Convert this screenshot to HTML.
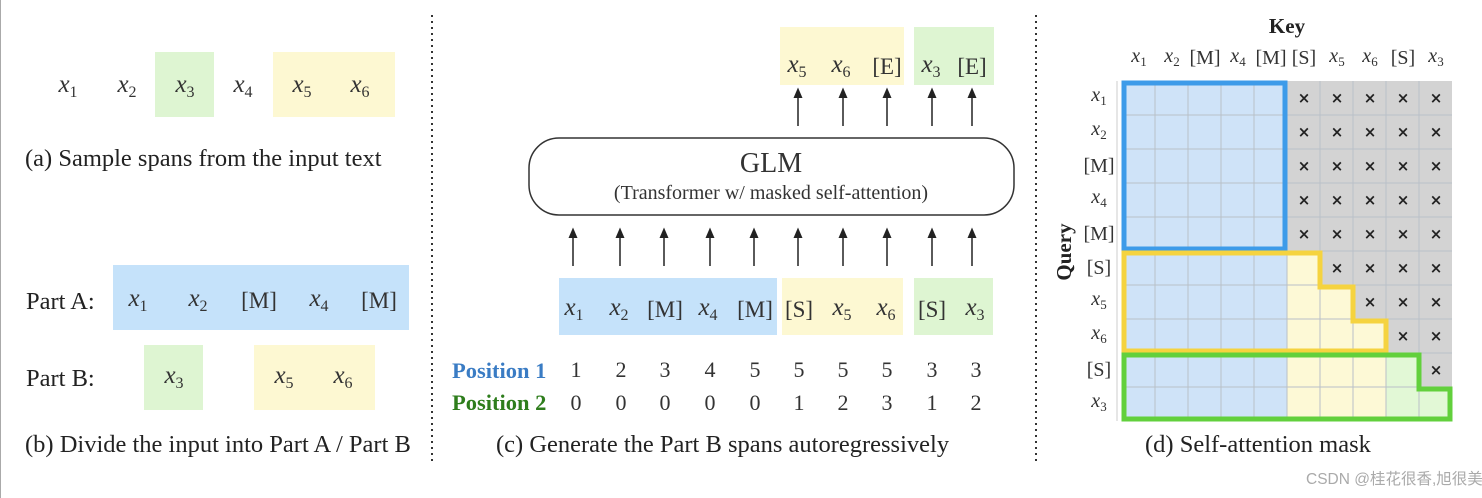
<!DOCTYPE html>
<html><head><meta charset="utf-8"><style>
html,body{margin:0;padding:0;background:#fff}
svg{display:block}
.m{font-family:"Liberation Serif",serif;font-style:italic;font-size:25px;fill:#333;text-anchor:middle}
.s{font-style:normal;font-size:16px}
.r{font-family:"Liberation Serif",serif;font-size:23px;fill:#333;text-anchor:middle}
.c{font-family:"Liberation Serif",serif;font-size:24.5px;fill:#222}
.n{font-family:"Liberation Serif",serif;font-size:22px;fill:#333;text-anchor:middle}
.x{font-family:"DejaVu Sans",sans-serif;font-size:15px;fill:#222;text-anchor:middle;font-weight:bold}
</style></head><body>
<svg width="1482" height="498" viewBox="0 0 1482 498" xmlns="http://www.w3.org/2000/svg">
<defs><marker id="ah" markerWidth="8" markerHeight="8" refX="4" refY="4" orient="auto"><path d="M0,1 L7,4 L0,7 z" fill="#222"/></marker></defs>
<line x1="0.5" y1="0" x2="0.5" y2="498" stroke="#aaa" stroke-width="1"/>
<line x1="432" y1="15" x2="432" y2="462" stroke="#333" stroke-width="2" stroke-dasharray="2,4"/>
<line x1="1036" y1="15" x2="1036" y2="462" stroke="#333" stroke-width="2" stroke-dasharray="2,4"/>

<!-- (a) -->
<rect x="155" y="52" width="59" height="65" fill="#def5d2"/>
<rect x="273" y="52" width="122" height="65" fill="#fdf8d2"/>
<text class="m" x="68" y="92">x<tspan class="s" dy="5">1</tspan></text>
<text class="m" x="127" y="92">x<tspan class="s" dy="5">2</tspan></text>
<text class="m" x="185" y="92">x<tspan class="s" dy="5">3</tspan></text>
<text class="m" x="243" y="92">x<tspan class="s" dy="5">4</tspan></text>
<text class="m" x="302" y="92">x<tspan class="s" dy="5">5</tspan></text>
<text class="m" x="360" y="92">x<tspan class="s" dy="5">6</tspan></text>
<text class="c" x="25" y="166">(a)  Sample spans from the input text</text>

<!-- (b) -->
<rect x="113" y="265" width="296" height="65" fill="#c5e2fa"/>
<text class="c" x="26" y="309">Part A:</text>
<text class="m" x="138" y="306">x<tspan class="s" dy="5">1</tspan></text>
<text class="m" x="198" y="306">x<tspan class="s" dy="5">2</tspan></text>
<text class="r" x="259" y="308">[M]</text>
<text class="m" x="319" y="306">x<tspan class="s" dy="5">4</tspan></text>
<text class="r" x="379" y="308">[M]</text>
<rect x="144" y="345" width="59" height="65" fill="#def5d2"/>
<rect x="254" y="345" width="121" height="65" fill="#fdf8d2"/>
<text class="c" x="26" y="386">Part B:</text>
<text class="m" x="174" y="383">x<tspan class="s" dy="5">3</tspan></text>
<text class="m" x="284" y="383">x<tspan class="s" dy="5">5</tspan></text>
<text class="m" x="343" y="383">x<tspan class="s" dy="5">6</tspan></text>
<text class="c" x="25" y="452">(b)  Divide the input into Part A / Part B</text>

<!-- (c) -->
<rect x="780" y="27" width="124" height="58" fill="#fdf8d2"/>
<rect x="914" y="27" width="80" height="58" fill="#def5d2"/>
<text class="m" x="797" y="72">x<tspan class="s" dy="5">5</tspan></text>
<text class="m" x="841" y="72">x<tspan class="s" dy="5">6</tspan></text>
<text class="r" x="887" y="74">[E]</text>
<text class="m" x="931" y="72">x<tspan class="s" dy="5">3</tspan></text>
<text class="r" x="972" y="74">[E]</text>
<g stroke="#222" stroke-width="1.5" marker-end="url(#ah)">
<line x1="798" y1="126" x2="798" y2="92"/><line x1="843" y1="126" x2="843" y2="92"/><line x1="887" y1="126" x2="887" y2="92"/><line x1="932" y1="126" x2="932" y2="92"/><line x1="972" y1="126" x2="972" y2="92"/>
<line x1="573" y1="266" x2="573" y2="232"/><line x1="620" y1="266" x2="620" y2="232"/><line x1="664" y1="266" x2="664" y2="232"/><line x1="710" y1="266" x2="710" y2="232"/><line x1="754" y1="266" x2="754" y2="232"/><line x1="798" y1="266" x2="798" y2="232"/><line x1="843" y1="266" x2="843" y2="232"/><line x1="887" y1="266" x2="887" y2="232"/><line x1="932" y1="266" x2="932" y2="232"/><line x1="972" y1="266" x2="972" y2="232"/>
</g>
<rect x="529" y="138" width="485" height="77" rx="30" ry="30" fill="#fff" stroke="#333" stroke-width="1.5"/>
<text class="r" x="771" y="172" style="font-size:28px">GLM</text>
<text class="r" x="771" y="199" style="font-size:20px">(Transformer w/ masked self-attention)</text>
<rect x="559" y="278" width="218" height="57" fill="#c5e2fa"/>
<rect x="782" y="278" width="121" height="57" fill="#fdf8d2"/>
<rect x="914" y="278" width="79" height="57" fill="#def5d2"/>
<text class="m" x="574" y="315">x<tspan class="s" dy="5">1</tspan></text>
<text class="m" x="619" y="315">x<tspan class="s" dy="5">2</tspan></text>
<text class="r" x="665" y="317">[M]</text>
<text class="m" x="708" y="315">x<tspan class="s" dy="5">4</tspan></text>
<text class="r" x="755" y="317">[M]</text>
<text class="r" x="799" y="317">[S]</text>
<text class="m" x="842" y="315">x<tspan class="s" dy="5">5</tspan></text>
<text class="m" x="886" y="315">x<tspan class="s" dy="5">6</tspan></text>
<text class="r" x="932" y="317">[S]</text>
<text class="m" x="975" y="315">x<tspan class="s" dy="5">3</tspan></text>
<text x="452" y="378" style="font-family:'Liberation Serif',serif;font-weight:bold;font-size:22.5px;fill:#3a7cc4">Position 1</text>
<text x="452" y="410" style="font-family:'Liberation Serif',serif;font-weight:bold;font-size:22.5px;fill:#2e7d1c">Position 2</text>
<text class="n" x="576" y="377">1</text><text class="n" x="621" y="377">2</text><text class="n" x="665" y="377">3</text><text class="n" x="710" y="377">4</text><text class="n" x="755" y="377">5</text><text class="n" x="799" y="377">5</text><text class="n" x="843" y="377">5</text><text class="n" x="887" y="377">5</text><text class="n" x="932" y="377">3</text><text class="n" x="976" y="377">3</text>
<text class="n" x="576" y="410">0</text><text class="n" x="621" y="410">0</text><text class="n" x="665" y="410">0</text><text class="n" x="710" y="410">0</text><text class="n" x="755" y="410">0</text><text class="n" x="799" y="410">1</text><text class="n" x="843" y="410">2</text><text class="n" x="887" y="410">3</text><text class="n" x="932" y="410">1</text><text class="n" x="976" y="410">2</text>
<text class="c" x="496" y="452">(c)  Generate the Part B spans autoregressively</text>

<!-- (d) -->
<text x="1287" y="33" style="font-family:'Liberation Serif',serif;font-weight:bold;font-size:21px;fill:#222;text-anchor:middle">Key</text>
<text class="m" x="1139" y="62" style="font-size:20px">x<tspan class="s" dy="4" style="font-size:13px">1</tspan></text>
<text class="m" x="1172" y="62" style="font-size:20px">x<tspan class="s" dy="4" style="font-size:13px">2</tspan></text>
<text class="r" x="1205" y="64" style="font-size:20px">[M]</text>
<text class="m" x="1238" y="62" style="font-size:20px">x<tspan class="s" dy="4" style="font-size:13px">4</tspan></text>
<text class="r" x="1271" y="64" style="font-size:20px">[M]</text>
<text class="r" x="1304" y="64" style="font-size:20px">[S]</text>
<text class="m" x="1337" y="62" style="font-size:20px">x<tspan class="s" dy="4" style="font-size:13px">5</tspan></text>
<text class="m" x="1370" y="62" style="font-size:20px">x<tspan class="s" dy="4" style="font-size:13px">6</tspan></text>
<text class="r" x="1403" y="64" style="font-size:20px">[S]</text>
<text class="m" x="1436" y="62" style="font-size:20px">x<tspan class="s" dy="4" style="font-size:13px">3</tspan></text>

<text class="m" x="1099" y="101" style="font-size:20px">x<tspan class="s" dy="4" style="font-size:13px">1</tspan></text>
<text class="m" x="1099" y="135" style="font-size:20px">x<tspan class="s" dy="4" style="font-size:13px">2</tspan></text>
<text class="r" x="1099" y="172" style="font-size:20px">[M]</text>
<text class="m" x="1099" y="203" style="font-size:20px">x<tspan class="s" dy="4" style="font-size:13px">4</tspan></text>
<text class="r" x="1099" y="240" style="font-size:20px">[M]</text>
<text class="r" x="1099" y="274" style="font-size:20px">[S]</text>
<text class="m" x="1099" y="305" style="font-size:20px">x<tspan class="s" dy="4" style="font-size:13px">5</tspan></text>
<text class="m" x="1099" y="339" style="font-size:20px">x<tspan class="s" dy="4" style="font-size:13px">6</tspan></text>
<text class="r" x="1099" y="376" style="font-size:20px">[S]</text>
<text class="m" x="1099" y="407" style="font-size:20px">x<tspan class="s" dy="4" style="font-size:13px">3</tspan></text>
<text transform="translate(1071,252) rotate(-90)" style="font-family:'Liberation Serif',serif;font-weight:bold;font-size:21px;fill:#222;text-anchor:middle">Query</text>

<rect x="1122" y="81" width="330" height="340" fill="#d3d3d3"/>
<rect x="1122" y="81" width="165" height="340" fill="#cfe3f8"/>
<path d="M1287,251 H1320 V285 H1353 V319 H1386 V421 H1287 Z" fill="#fdf9d6"/>
<path d="M1386,353 H1419 V387 H1452 V421 H1386 Z" fill="#e2f8d6"/>
<g stroke="#b9c0c8" stroke-width="1">
<line x1="1155" y1="81" x2="1155" y2="421"/><line x1="1188" y1="81" x2="1188" y2="421"/><line x1="1221" y1="81" x2="1221" y2="421"/><line x1="1254" y1="81" x2="1254" y2="421"/><line x1="1287" y1="81" x2="1287" y2="421"/><line x1="1320" y1="81" x2="1320" y2="421"/><line x1="1353" y1="81" x2="1353" y2="421"/><line x1="1386" y1="81" x2="1386" y2="421"/><line x1="1419" y1="81" x2="1419" y2="421"/>
<line x1="1122" y1="115" x2="1452" y2="115"/><line x1="1122" y1="149" x2="1452" y2="149"/><line x1="1122" y1="183" x2="1452" y2="183"/><line x1="1122" y1="217" x2="1452" y2="217"/><line x1="1122" y1="251" x2="1452" y2="251"/><line x1="1122" y1="285" x2="1452" y2="285"/><line x1="1122" y1="319" x2="1452" y2="319"/><line x1="1122" y1="353" x2="1452" y2="353"/><line x1="1122" y1="387" x2="1452" y2="387"/>
</g>
<line x1="1117" y1="81" x2="1117" y2="421" stroke="#ccc"/>
<g>
<text class="x" x="1304" y="103">×</text><text class="x" x="1337" y="103">×</text><text class="x" x="1370" y="103">×</text><text class="x" x="1403" y="103">×</text><text class="x" x="1436" y="103">×</text>
<text class="x" x="1304" y="137">×</text><text class="x" x="1337" y="137">×</text><text class="x" x="1370" y="137">×</text><text class="x" x="1403" y="137">×</text><text class="x" x="1436" y="137">×</text>
<text class="x" x="1304" y="171">×</text><text class="x" x="1337" y="171">×</text><text class="x" x="1370" y="171">×</text><text class="x" x="1403" y="171">×</text><text class="x" x="1436" y="171">×</text>
<text class="x" x="1304" y="205">×</text><text class="x" x="1337" y="205">×</text><text class="x" x="1370" y="205">×</text><text class="x" x="1403" y="205">×</text><text class="x" x="1436" y="205">×</text>
<text class="x" x="1304" y="239">×</text><text class="x" x="1337" y="239">×</text><text class="x" x="1370" y="239">×</text><text class="x" x="1403" y="239">×</text><text class="x" x="1436" y="239">×</text>
<text class="x" x="1337" y="273">×</text><text class="x" x="1370" y="273">×</text><text class="x" x="1403" y="273">×</text><text class="x" x="1436" y="273">×</text>
<text class="x" x="1370" y="307">×</text><text class="x" x="1403" y="307">×</text><text class="x" x="1436" y="307">×</text>
<text class="x" x="1403" y="341">×</text><text class="x" x="1436" y="341">×</text>
<text class="x" x="1436" y="375">×</text>
</g>
<rect x="1124" y="83" width="161" height="166" fill="none" stroke="#3d9be9" stroke-width="5"/>
<path d="M1124,253 H1320 V287 H1353 V321 H1386 V351 H1124 Z" fill="none" stroke="#f5d33f" stroke-width="5"/>
<path d="M1124,355 H1419 V389 H1450 V419 H1124 Z" fill="none" stroke="#62d03c" stroke-width="5"/>
<text class="c" x="1145" y="452">(d)  Self-attention mask</text>
<text x="1306" y="484" style="font-family:'Liberation Sans','Noto Sans CJK SC',sans-serif;font-size:15.5px;fill:#aaa">CSDN @桂花很香,旭很美</text>
</svg>
</body></html>
